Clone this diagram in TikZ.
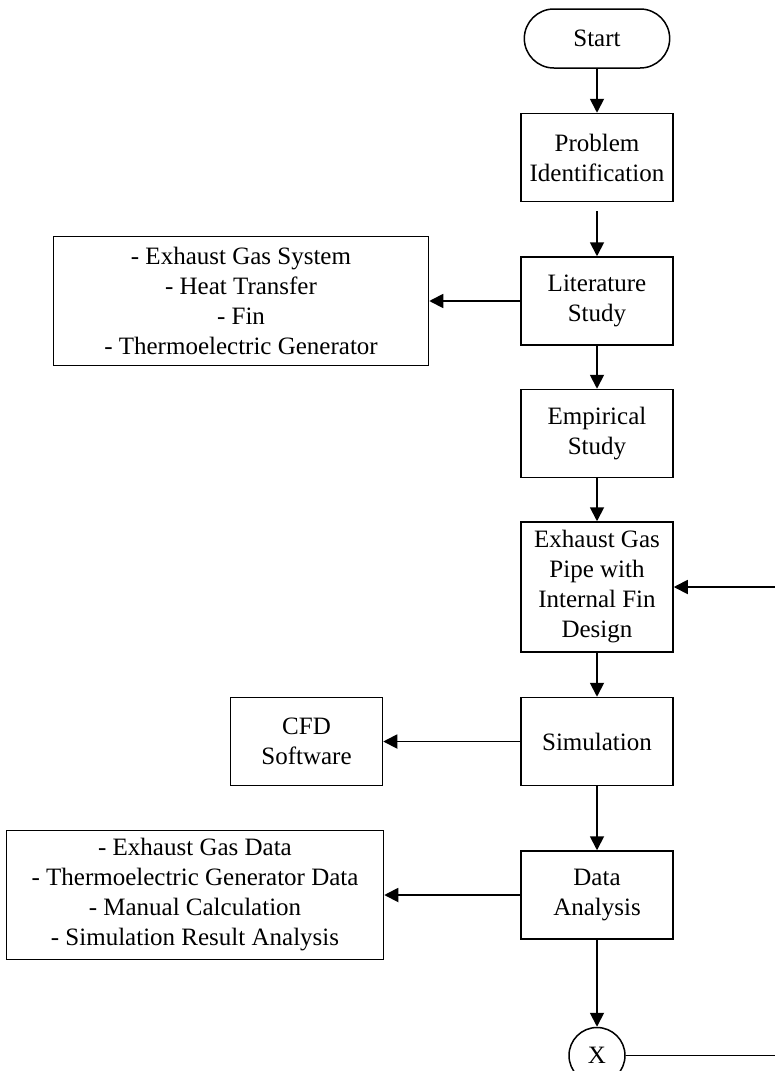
\documentclass[tikz,border=0pt]{standalone}
\usepackage{fontspec}
\setmainfont{Liberation Serif}
\usetikzlibrary{arrows.meta, positioning, shapes.misc}

\begin{document}
\begin{tikzpicture}[
    x=1pt, y=-1pt,
    font=\fontsize{25}{30}\selectfont,
    box/.style={draw, line width=1.5pt, minimum width=152pt,
                minimum height=88pt, align=center, inner sep=2pt},
    listbox/.style={draw, line width=1.5pt, minimum height=129pt, align=center},
    arr/.style={-{Triangle[length=14pt, width=14pt]}, line width=1.8pt},
  ]
  \useasboundingbox (0,0) rectangle (775,1071);
  \coordinate (edge) at (775,0);
  % main column
  \node[draw, line width=1.5pt, rounded rectangle, minimum width=152pt,
        minimum height=59pt] (start) at (597,38.5) {Start};
  \node[box, below=44pt of start]      (problem)    {Problem\\Identification};
  \node[box, below=54pt of problem]    (literature) {Literature\\Study};
  \node[box, below=43pt of literature] (empirical)  {Empirical\\Study};
  \node[box, minimum height=130pt, below=43pt of empirical] (pipe)
        {Exhaust Gas\\Pipe with\\Internal Fin\\Design};
  \node[box, below=44pt of pipe]       (simulation) {Simulation};
  \node[box, below=64pt of simulation] (analysis)   {Data\\Analysis};
  \node[draw, line width=1.5pt, circle, minimum size=56pt, inner sep=0pt,
        below=87pt of analysis] (conn) {X};
  % side boxes
  \node[listbox, minimum width=375pt, left=91pt of literature] (topics)
        {- Exhaust Gas System\\- Heat Transfer\\- Fin\\- Thermoelectric Generator};
  \node[box, left=137pt of simulation] (cfd) {CFD\\Software};
  \node[listbox, minimum width=377pt, left=136pt of analysis] (datalist)
        {- Exhaust Gas Data\\- Thermoelectric Generator Data\\- Manual Calculation\\- Simulation Result Analysis};
  % connectors
  \draw[arr] (start)      -- (problem);
  \draw[arr, shorten <=9pt] (problem) -- (literature);
  \draw[arr] (literature) -- (empirical);
  \draw[arr] (empirical)  -- (pipe);
  \draw[arr] (pipe)       -- (simulation);
  \draw[arr] (simulation) -- (analysis);
  \draw[arr] (analysis)   -- (conn);
  \draw[arr] (literature) -- (topics);
  \draw[arr] (simulation) -- (cfd);
  \draw[arr] (analysis)   -- (datalist);
  \draw[line width=1.8pt] (conn) -- (conn -| edge);
  \draw[arr] (pipe.east -| edge) -- (pipe);
\end{tikzpicture}
\end{document}
